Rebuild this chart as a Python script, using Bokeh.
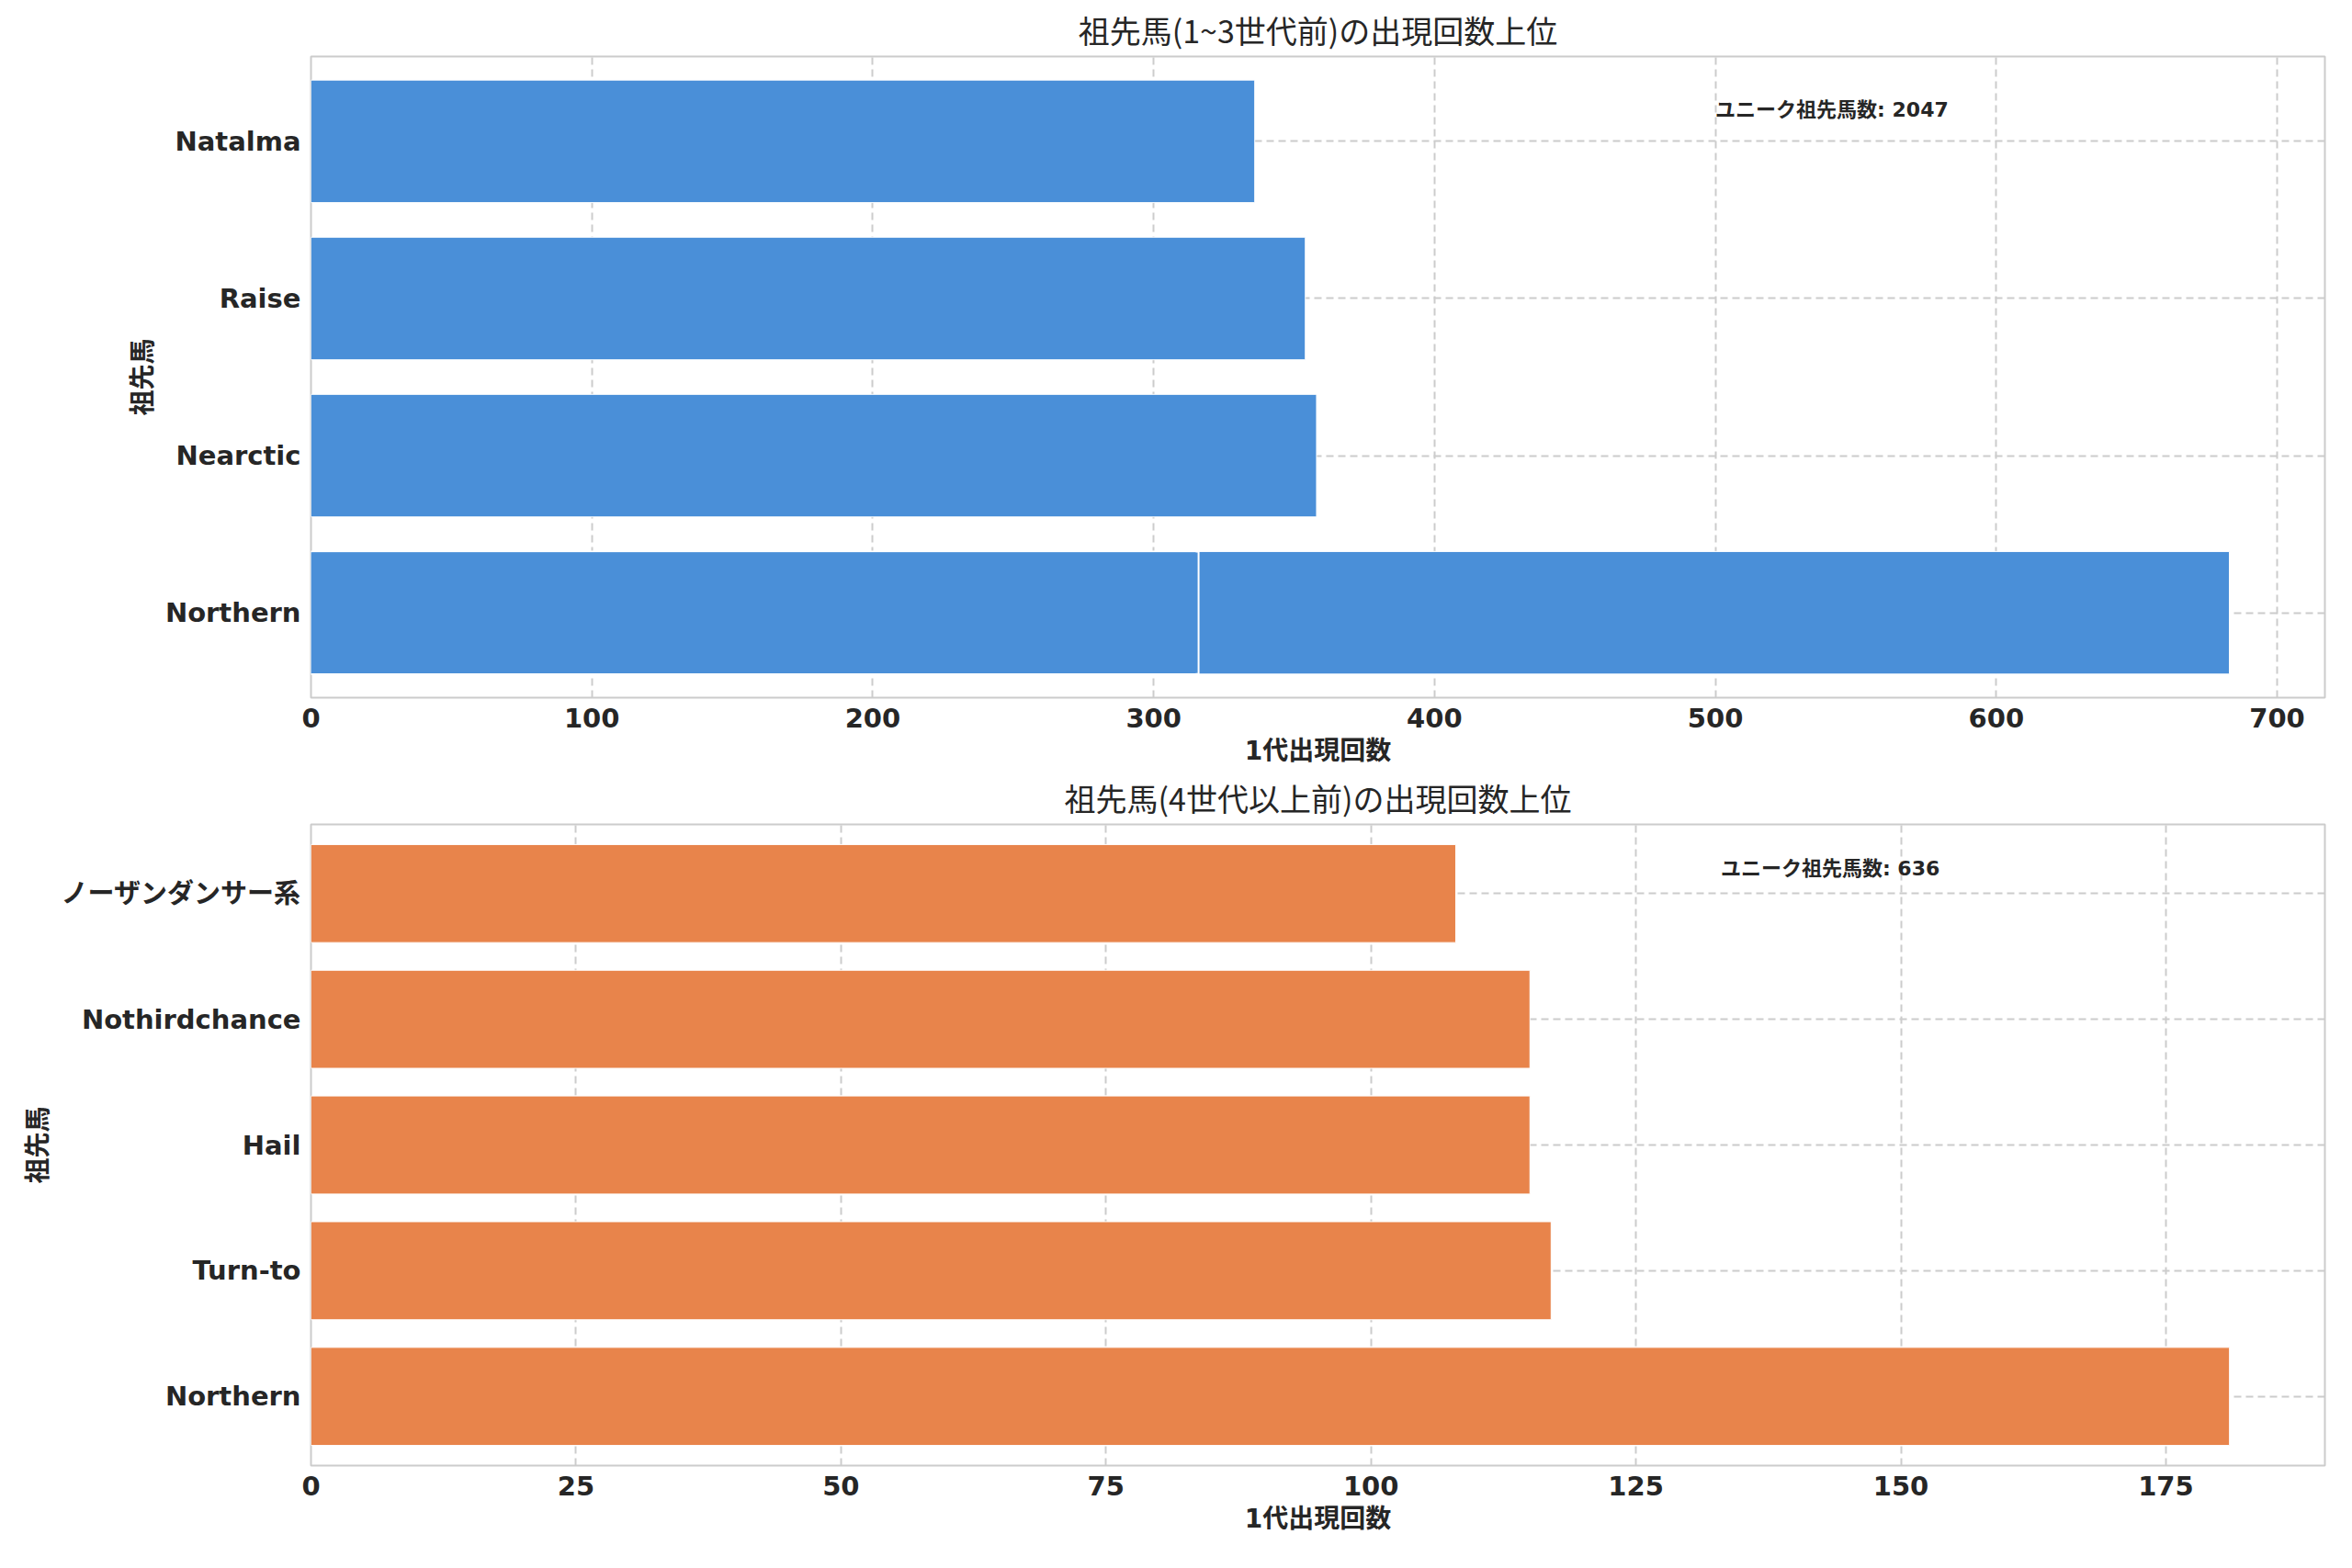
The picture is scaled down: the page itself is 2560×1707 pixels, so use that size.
from bokeh.plotting import figure
from bokeh.layouts import column
from bokeh.models import FactorRange, Range1d, Label
from bokeh.embed import file_html
from bokeh.resources import INLINE

top_names = ["Northern", "Nearctic", "Raise", "Natalma"]
top_vals = [683, 358, 354, 336]
top_inner = 316
top_unique = 2047
bot_names = ["Northern", "Turn-to", "Hail", "Nothirdchance", "ノーザンダンサー系"]
bot_vals = [181, 117, 115, 115, 108]
bot_unique = 636

titles = ["祖先馬(1~3世代前)の出現回数上位", "祖先馬(4世代以上前)の出現回数上位"]
xlabel = "1代出現回数"
ylabel = "祖先馬"
FONT = "DejaVu Sans, Noto Sans CJK JP"

def make(names, vals, color, xmax, ticks, uniq, annx, title, inner=None):
    p = figure(width=2544, height=836, y_range=FactorRange(*names, range_padding=0.02), x_range=Range1d(0, xmax),
               output_backend="svg", toolbar_location=None, title=title,
               min_border_left=338, min_border_right=14, min_border_top=34)
    p.title.align = "center"
    p.title.text_font = "Noto Sans CJK JP"
    p.title.text_font_size = "34px"
    p.title.text_font_style = "normal"
    p.title.text_color = "#262626"
    p.hbar(y=names, right=vals, height=0.78, color=color, line_color="white", line_width=1)
    if inner is not None:
        p.hbar(y=[names[0]], right=[inner], height=0.78, fill_color=color, line_color="white", line_width=2)
        p.hbar(y=[names[0]], left=[0], right=[inner - 1], height=0.77, fill_color=color, line_color=None)
    p.xaxis.ticker = ticks
    p.xaxis.axis_label = xlabel
    p.yaxis.axis_label = ylabel
    for ax in (p.xaxis[0], p.yaxis[0]):
        ax.major_label_text_font = FONT
        ax.major_label_text_font_style = "bold"
        ax.major_label_text_font_size = "29px"
        ax.major_label_text_color = "#262626"
        ax.axis_label_text_font = FONT
        ax.axis_label_text_font_style = "bold"
        ax.axis_label_text_font_size = "28px"
        ax.axis_label_text_color = "#262626"
        ax.axis_line_color = None
        ax.major_tick_line_color = None
        ax.minor_tick_line_color = None
    p.xaxis.axis_label_standoff = 6
    p.outline_line_color = "#cccccc"
    p.outline_line_width = 2
    p.grid.grid_line_color = "#cccccc"
    p.grid.grid_line_dash = "8 5"
    p.grid.grid_line_width = 2
    p.grid.level = "underlay"
    p.add_layout(Label(x=annx, y=len(names) - 0.3, text=f"ユニーク祖先馬数: {uniq}", text_font=FONT,
                       text_font_style="bold", text_font_size="22px", text_color="#262626",
                       text_baseline="middle"))
    return p

p1 = make(top_names, top_vals, "#4a8fd8", 717, [0, 100, 200, 300, 400, 500, 600, 700], top_unique, 500, titles[0], inner=top_inner)
p2 = make(bot_names, bot_vals, "#e8844b", 190, [0, 25, 50, 75, 100, 125, 150, 175], bot_unique, 133, titles[1])
layout = column(p1, p2, spacing=0)
open("out.html", "w").write(file_html(layout, INLINE))
